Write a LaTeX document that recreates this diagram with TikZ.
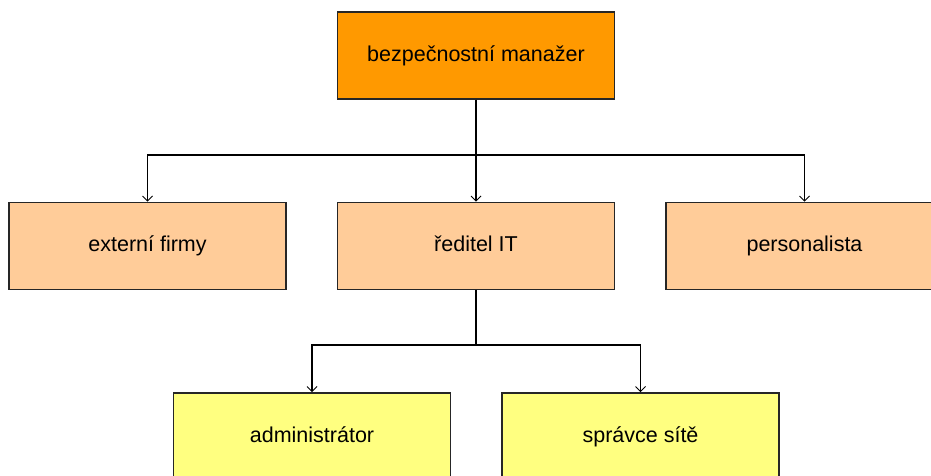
\documentclass[tikz,border=0pt]{standalone}
\usepackage{fontspec}
\setmainfont{Liberation Sans}
\usetikzlibrary{arrows.meta}
\definecolor{topc}{RGB}{255,153,0}
\definecolor{midc}{RGB}{255,204,153}
\definecolor{botc}{RGB}{255,255,128}
\tikzset{
  box/.style={draw=black!85, line width=1.6pt, minimum width=277pt, minimum height=87pt, inner sep=0pt, text height=15pt, text depth=4pt, font=\fontsize{21.5}{25}\selectfont},
  conn/.style={draw=black, line width=1.6pt, -{Straight Barb[length=5pt,width=10pt,line width=1pt]}},
}
\begin{document}
\begin{tikzpicture}[x=1pt,y=-1pt]
\useasboundingbox (0,0) rectangle (931,475);
\clip (0,0) rectangle (931,475);
\fill[white] (0,0) rectangle (931,475);
\node[box, fill=topc] (top) at (476,55.5) {bezpečnostní manažer};
\node[box, fill=midc] (ext) at (147.5,246) {externí firmy};
\node[box, fill=midc] (it) at (476,246) {ředitel IT};
\node[box, fill=midc] (pers) at (804.5,246) {personalista};
\node[box, fill=botc] (adm) at (312,436.5) {administrátor};
\node[box, fill=botc] (spr) at (640.5,436.5) {správce sítě};
\coordinate (bus1) at (476,155);
\coordinate (bus2) at (476,345);
\draw[conn] (top.south) -- (it.north);
\draw[conn] (top.south) -- (bus1) -| (ext.north);
\draw[conn] (top.south) -- (bus1) -| (pers.north);
\draw[conn] (it.south) -- (bus2) -| (adm.north);
\draw[conn] (it.south) -- (bus2) -| (spr.north);
\end{tikzpicture}
\end{document}
